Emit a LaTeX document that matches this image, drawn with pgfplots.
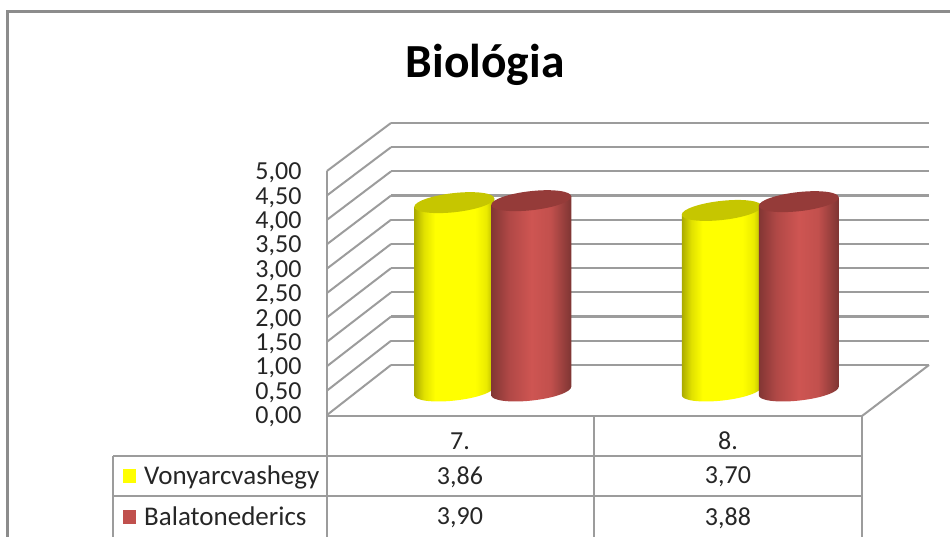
\documentclass[border=0pt]{standalone}
\usepackage{fontspec}
\setmainfont{Carlito}
\usepackage{pgfplots}
\pgfplotsset{compat=1.18}

\definecolor{framegray}{HTML}{8C8C8C}
\definecolor{gridgray}{HTML}{9C9C9C}
\definecolor{labeltext}{HTML}{262626}
\definecolor{capyellow}{HTML}{C6C600}
\definecolor{capred}{HTML}{953B39}
\definecolor{keyyellow}{HTML}{FFFF00}
\definecolor{keyred}{HTML}{C0504D}

% cylinder sides, left edge is 25bp and right edge is 75bp
\pgfdeclarehorizontalshading{cylyellow}{100bp}{
  color(0bp)=(rgb,255:red,170;green,170;blue,0);
  color(25bp)=(rgb,255:red,170;green,170;blue,0);
  color(31bp)=(rgb,255:red,225;green,225;blue,0);
  color(38bp)=(rgb,255:red,255;green,255;blue,0);
  color(63bp)=(rgb,255:red,255;green,255;blue,0);
  color(70bp)=(rgb,255:red,235;green,235;blue,0);
  color(75bp)=(rgb,255:red,180;green,180;blue,0);
  color(100bp)=(rgb,255:red,180;green,180;blue,0)}
\pgfdeclarehorizontalshading{cylred}{100bp}{
  color(0bp)=(rgb,255:red,130;green,54;blue,52);
  color(25bp)=(rgb,255:red,130;green,54;blue,52);
  color(36bp)=(rgb,255:red,176;green,72;blue,70);
  color(50bp)=(rgb,255:red,206;green,85;blue,82);
  color(62bp)=(rgb,255:red,194;green,80;blue,77);
  color(75bp)=(rgb,255:red,126;green,53;blue,51);
  color(100bp)=(rgb,255:red,126;green,53;blue,51)}
\pgfdeclareplotmark{nothing}{}

\pgfplotstableread{
cat vony bala
0   3.86 3.90
1   3.70 3.88
}\biotable

\newcommand{\tickfont}{\fontsize{26}{26}\selectfont}
\newcommand{\pxpt}{48.8}

% half axes of the ellipse, tilt of it, in px
\newcommand{\ea}{40}
\newcommand{\eb}{9.6}
\newcommand{\et}{4.2}
\newcommand{\ek}{0.5523}

% #1 shading, #2 cap colour, #3 sideways shift in px, #4 height in px
\newcommand{\drawcyl}[4]{%
  \pgfmathsetmacro{\xl}{#3-\ea}\pgfmathsetmacro{\xr}{#3+\ea}%
  \pgfmathsetmacro{\xcl}{#3-\ek*\ea}\pgfmathsetmacro{\xcr}{#3+\ek*\ea}%
  \pgfmathsetmacro{\tk}{\ek*\et}\pgfmathsetmacro{\bk}{\ek*\eb}%
  \pgfmathsetmacro{\h}{#4}%
  \path[shading=#1, draw=none] (\xl pt,-\et pt)
    -- (\xl pt,{(-\h-\et)*1pt})
    .. controls (\xl pt,{(-\h-\et-\bk)*1pt}) and (\xcl pt,{(-\h-\eb-\tk)*1pt}) .. (#3pt,{(-\h-\eb)*1pt})
    .. controls (\xcr pt,{(-\h-\eb+\tk)*1pt}) and (\xr pt,{(-\h+\et-\bk)*1pt}) .. (\xr pt,{(-\h+\et)*1pt})
    -- (\xr pt,\et pt) -- cycle;
  \path[fill=#2, draw=none] (\xl pt,-\et pt)
    .. controls (\xl pt,{(-\et-\bk)*1pt}) and (\xcl pt,{(-\eb-\tk)*1pt}) .. (#3pt,-\eb pt)
    .. controls (\xcr pt,{(-\eb+\tk)*1pt}) and (\xr pt,{(\et-\bk)*1pt}) .. (\xr pt,\et pt)
    .. controls (\xr pt,{(\et+\bk)*1pt}) and (\xcr pt,{(\eb+\tk)*1pt}) .. (#3pt,\eb pt)
    .. controls (\xcl pt,{(\eb-\tk)*1pt}) and (\xl pt,{(-\et+\bk)*1pt}) .. (\xl pt,-\et pt) -- cycle;
}

\pgfplotsset{
  cylinder plot/.style n args={3}{
    scatter, only marks, mark=nothing,
    visualization depends on=rawy \as \rawval,
    scatter/@pre marker code/.code={\drawcyl{#1}{#2}{#3}{\rawval*\pxpt}},
    scatter/@post marker code/.code={},
  },
  plane/.style={
    scale only axis, clip=false,
    xmin=-0.5, xmax=1.5, ymin=0, ymax=5,
    xtick=\empty, ytick={0,0.5,...,5},
    axis line style={draw=none},
    major tick style={draw=none},
  },
}

\begin{document}
\begin{tikzpicture}[x=1pt, y=1pt]
\useasboundingbox (0,0) rectangle (950,537);

% outer chart frame
\draw[framegray, line width=2.2pt] (7.5,0) -- (7.5,525.5) -- (950,525.5);

% back wall with its grid
\begin{axis}[plane, at={(391pt,172pt)}, anchor=south west,
    width=538pt, height=242pt, yticklabels={},
    ymajorgrids, grid style={gridgray, line width=2.2pt}]
\addplot[draw=none] coordinates {(0,0) (1,5)};
\end{axis}

% side wall and floor
\foreach \i in {0,...,10}{
  \draw[gridgray, line width=2pt] (327,{122+\i*24.4}) -- (391,{172+\i*24.2});
}
\draw[gridgray, line width=2pt] (327,366) -- (327,0);
\draw[gridgray, line width=2pt] (862,121) -- (929,172);

% table grid
\draw[gridgray, line width=2.4pt] (327,121) -- (862,121);
\draw[gridgray, line width=2.4pt] (113,81) -- (862,81);
\draw[gridgray, line width=2.4pt] (113,41) -- (862,41);
\draw[gridgray, line width=2.4pt] (113,81) -- (113,0);
\draw[gridgray, line width=2.4pt] (594,121) -- (594,0);
\draw[gridgray, line width=2.4pt] (862,121) -- (862,0);

% front plane, only for the value labels
\begin{axis}[plane, at={(327pt,122pt)}, anchor=south west,
    width=535pt, height=244pt,
    tick label style={font=\tickfont, text=labeltext},
    yticklabel style={yshift=-2pt, /pgf/number format/.cd, fixed, fixed zerofill, precision=2,
      use comma, assume math mode=true},
    yticklabel shift=22pt]
\addplot[draw=none] coordinates {(0,0) (1,5)};
\end{axis}

% cylinders stand half way into the floor
\begin{axis}[plane, at={(359pt,146pt)}, anchor=south west,
    width=535pt, height=244pt, yticklabels={}]
\addplot[cylinder plot={cylyellow}{capyellow}{-38.5}] table[x=cat, y=vony] {\biotable};
\addplot[cylinder plot={cylred}{capred}{38.5}] table[x=cat, y=bala] {\biotable};
\end{axis}

\node[font=\fontsize{47.5}{47.5}\bfseries\selectfont, text=black] at (485,472) {Biológia};

% data table texts
\begin{scope}[every node/.style={font=\tickfont, text=labeltext, inner sep=0pt}]
\node at (460,96) {7.};
\node at (728,96) {8.};
\node at (460,60) {3,86};
\node at (728,60) {3,70};
\node at (460,19) {3,90};
\node at (728,19) {3,88};
\node[anchor=base west, font=\fontsize{27}{27}\selectfont] at (144,52) {Vonyarcvashegy};
\node[anchor=base west, font=\fontsize{27}{27}\selectfont] at (144,11) {Balatonederics};
\end{scope}
\fill[keyyellow] (123,54) rectangle (136,68);
\fill[keyred] (123,13) rectangle (136,27);
\end{tikzpicture}
\end{document}
